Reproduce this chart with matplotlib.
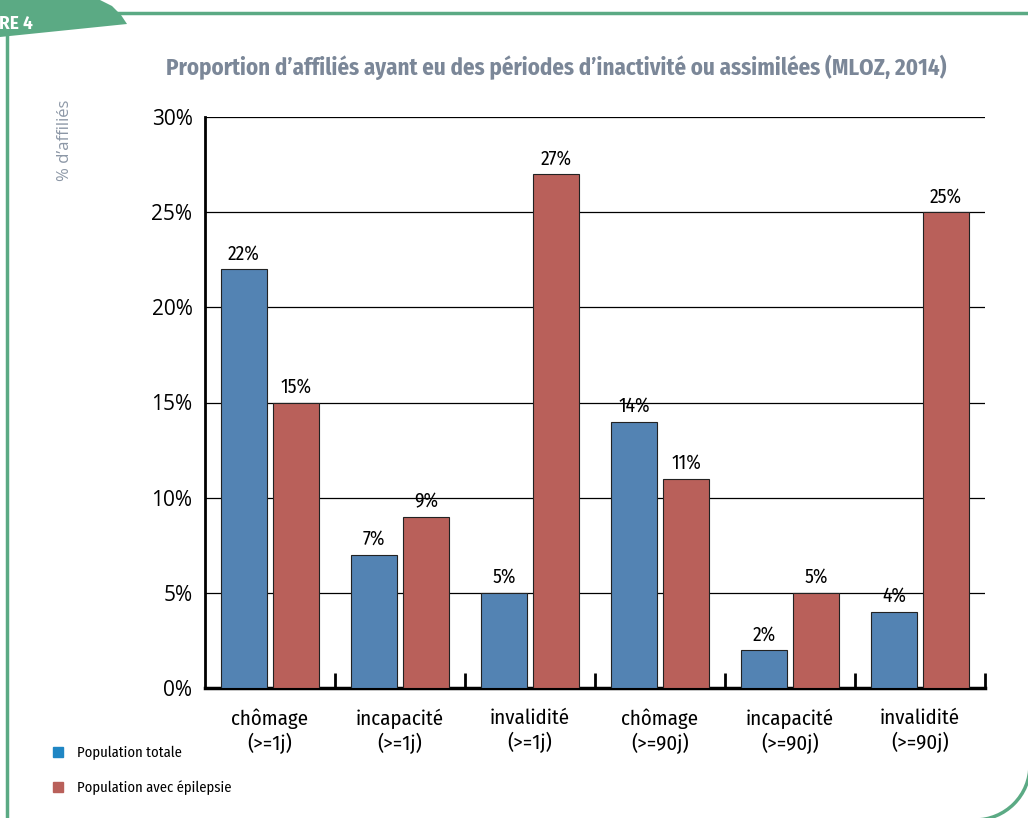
import matplotlib
matplotlib.use("Agg")
import matplotlib.pyplot as plt
import numpy as np
from matplotlib.patches import Patch, Polygon, Arc
from matplotlib.lines import Line2D

categories = ["chômage\n(>=1j)", "incapacité\n(>=1j)", "invalidité\n(>=1j)",
              "chômage\n(>=90j)", "incapacité\n(>=90j)", "invalidité\n(>=90j)"]
pop_totale = [22, 7, 5, 14, 2, 4]
pop_epilepsie = [15, 9, 27, 11, 5, 25]
yticks = [0, 5, 10, 15, 20, 25, 30]

plt.rcParams['font.family'] = ['Fira Sans Condensed', 'DejaVu Sans']
narrow = ['Fira Sans Condensed', 'DejaVu Sans']

W, H = 1028, 818
fig = plt.figure(figsize=(W / 100, H / 100), dpi=100)

def px(x, y):
    return (x / W, 1 - y / H)

green = "#5BAA84"
blue = "#5383B3"
red = "#B9605A"

ax = fig.add_axes([205 / W, 1 - 688 / H, 780 / W, 571 / H])
x = np.arange(len(categories))
ax.bar(x - 0.2, pop_totale, width=0.355, color=blue, edgecolor="#222222", linewidth=0.8, zorder=3)
ax.bar(x + 0.2, pop_epilepsie, width=0.355, color=red, edgecolor="#222222", linewidth=0.8, zorder=3)
for xi, v in zip(x, pop_totale):
    ax.text(xi - 0.2, v + 0.3, f"{v}%", ha="center", va="bottom", fontsize=14, family=narrow, zorder=4)
for xi, v in zip(x, pop_epilepsie):
    ax.text(xi + 0.2, v + 0.3, f"{v}%", ha="center", va="bottom", fontsize=14, family=narrow, zorder=4)

ax.set_xlim(-0.5, 5.5)
ax.set_ylim(0, 30)
ax.set_yticks(yticks)
ax.set_yticklabels([f"{t}%" for t in yticks], fontsize=15, family=['Open Sans', 'DejaVu Sans'])
ax.set_xticks(x)
ax.set_xticklabels(categories, fontsize=15, family=narrow, linespacing=1.2)
ax.tick_params(axis="x", length=0, pad=15)
ax.tick_params(axis="y", length=0, pad=9)
ax.set_xticks(np.arange(0.5, 6.0, 1.0), minor=True)
ax.tick_params(axis="x", which="minor", direction="in", length=11, width=2, color="black")
ax.yaxis.grid(True, color="black", linewidth=0.9, zorder=0)
ax.set_axisbelow(True)
for s in ["top", "right"]:
    ax.spines[s].set_visible(False)
ax.spines["left"].set_linewidth(2)
ax.spines["bottom"].set_linewidth(2.5)

fig.text(px(556, 67)[0], px(556, 67)[1], "Proportion d’affiliés ayant eu des périodes d’inactivité ou assimilées (MLOZ, 2014)",
         ha="center", va="center", fontsize=16.5, fontweight="bold", color="#7B8798")
fig.text(px(65, 140)[0], px(65, 140)[1], "% d’affiliés", rotation=90, ha="center", va="center",
         fontsize=12, color="#8C97A6", family=['Open Sans', 'DejaVu Sans'])

leg = fig.legend(handles=[Patch(color="#1F86C4", label="Population totale"),
                          Patch(color="#B9605A", label="Population avec épilepsie"),],
                 loc="upper left", bbox_to_anchor=px(40, 733), frameon=False, prop={'family': narrow, 'size': 10.5},
                 handlelength=0.65, handleheight=0.65, labelspacing=1.35, handletextpad=1.0)

# green frame
fig.add_artist(Line2D([px(7, 0)[0]] * 2, [px(7, 35)[1], 0], color=green, lw=2.5, transform=fig.transFigure))
fig.add_artist(Line2D([px(118, 13)[0], 1], [px(118, 13)[1]] * 2, color=green, lw=2.5, transform=fig.transFigure))
tab = Polygon([px(0, 0), px(100, 0), px(112, 6), px(121, 15), px(127, 24), px(0, 37)], closed=True,
              facecolor=green, edgecolor="none", transform=fig.transFigure)
fig.add_artist(tab)
fig.text(px(-1, 24)[0], px(-1, 24)[1], "RE 4", color="white", fontsize=12.5, fontweight="bold",
         family=['Fira Sans', 'DejaVu Sans'], va="center", ha="left")
arc = Arc(px(975, 765), 2 * 55 / W, 2 * 55 / H, theta1=270, theta2=360, color=green, lw=2.5,
          transform=fig.transFigure)
fig.add_artist(arc)

fig.savefig("out.png", dpi=100)
